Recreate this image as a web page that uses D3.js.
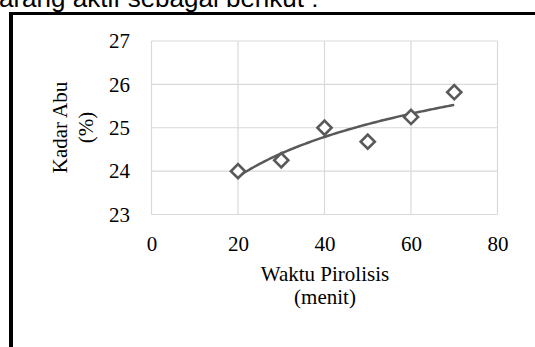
<!DOCTYPE html>
<html><head><meta charset="utf-8">
<script src="https://cdn.jsdelivr.net/npm/d3@7"></script>
<style>html,body{margin:0;padding:0;background:#fff;overflow:hidden}</style>
</head><body>
<script>
const waktu = [20, 30, 40, 50, 60, 70];
const kadarAbu = [24.0, 24.25, 25.0, 24.68, 25.25, 25.82];
const xTicks = [0, 20, 40, 60, 80];
const yTicks = [23, 24, 25, 26, 27];

const W = 535, H = 347;
const svg = d3.select("body").append("svg").attr("width", W).attr("height", H);

// header text (cut off at top)
svg.append("text").attr("x", -1).attr("y", 6.5)
  .attr("font-family", "Liberation Sans, Arial, sans-serif").attr("font-size", 26)
  .attr("fill", "#000").text("arang aktif sebagai berikut :");

// frame
svg.append("line").attr("x1", 11).attr("x2", 11).attr("y1", 12).attr("y2", H).attr("stroke", "#000").attr("stroke-width", 4);
svg.append("line").attr("x1", 9).attr("x2", W).attr("y1", 13.5).attr("y2", 13.5).attr("stroke", "#000").attr("stroke-width", 3);

const x = d3.scaleLinear().domain([0, 80]).range([151.5, 497.5]);
const y = d3.scaleLinear().domain([23, 27]).range([214.5, 41]);

const g = svg.append("g");
g.selectAll(".vg").data(xTicks).join("line")
  .attr("x1", d => x(d)).attr("x2", d => x(d)).attr("y1", y(23)).attr("y2", y(27))
  .attr("stroke", "#d9d9d9").attr("stroke-width", 1.2);
g.selectAll(".hg").data(yTicks).join("line")
  .attr("x1", x(0)).attr("x2", x(80)).attr("y1", d => y(d)).attr("y2", d => y(d))
  .attr("stroke", "#d9d9d9").attr("stroke-width", 1.2);

const font = "Liberation Serif, Times New Roman, serif";
const FS = 21;
const yAxis = d3.axisLeft(y).tickValues(yTicks).tickSize(0).tickPadding(21.5).tickFormat(d3.format("d"));
const ya = svg.append("g").attr("transform", `translate(${x(0)},0)`).call(yAxis);
const xAxis = d3.axisBottom(x).tickValues(xTicks).tickSize(0).tickPadding(22).tickFormat(d3.format("d"));
const xa = svg.append("g").attr("transform", `translate(0,${y(23)})`).call(xAxis);
[ya, xa].forEach(a => {
  a.select(".domain").remove();
  a.selectAll("text").attr("font-family", font).attr("font-size", FS).attr("fill", "#000");
});

// trendline: logarithmic least-squares fit of the data
const lx = waktu.map(Math.log);
const mx = d3.mean(lx), my = d3.mean(kadarAbu);
const sxy = d3.sum(lx.map((v, i) => (v - mx) * (kadarAbu[i] - my)));
const sxx = d3.sum(lx.map(v => (v - mx) ** 2));
const a = sxy / sxx, b = my - a * mx;
const tr = d3.range(0, 101).map(i => {
  const xv = waktu[0] + (waktu[waktu.length - 1] - waktu[0]) * i / 100;
  return [xv, a * Math.log(xv) + b];
});
svg.append("path").datum(tr)
  .attr("d", d3.line().x(d => x(d[0])).y(d => y(d[1])))
  .attr("fill", "none").attr("stroke", "#595959").attr("stroke-width", 2.5);

const sym = d3.symbol().type(d3.symbolSquare).size(100);
svg.selectAll(".pt").data(waktu).join("path")
  .attr("d", sym)
  .attr("transform", (d, i) => `translate(${x(d)},${y(kadarAbu[i])}) rotate(45)`)
  .attr("fill", "#fff").attr("stroke", "#595959").attr("stroke-width", 2.6);

const xt = svg.append("text").attr("text-anchor", "middle").attr("font-family", font).attr("font-size", FS).attr("fill", "#000");
xt.append("tspan").attr("x", 325).attr("y", 281).text("Waktu Pirolisis");
xt.append("tspan").attr("x", 325).attr("y", 304).text("(menit)");

const yt = svg.append("text").attr("text-anchor", "middle").attr("font-family", font).attr("font-size", FS).attr("fill", "#000")
  .attr("transform", "rotate(-90)");
yt.append("tspan").attr("x", -127.5).attr("y", 66.5).text("Kadar Abu");
yt.append("tspan").attr("x", -127.5).attr("y", 93).text("(%)");
</script>
</body></html>
